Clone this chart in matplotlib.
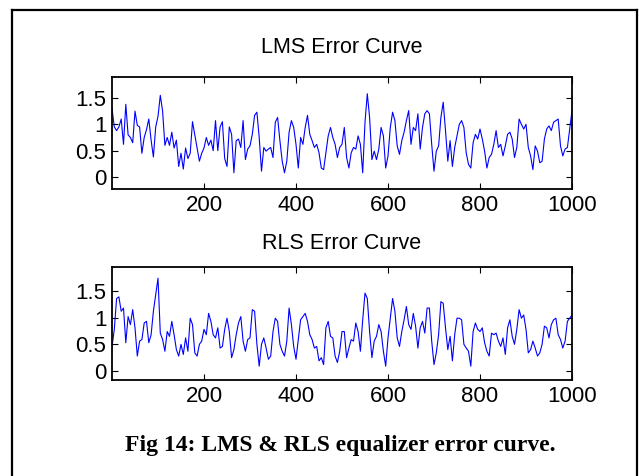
import numpy as np
import matplotlib
matplotlib.use("Agg")
import matplotlib.pyplot as plt
from matplotlib.lines import Line2D

step = 5
lms_error = [
    1.30, 0.95, 0.88, 0.95, 1.10, 0.62, 1.38, 0.80, 0.75, 0.65,
    1.25, 0.98, 0.95, 0.45, 0.75, 0.90, 1.10, 0.70, 0.38, 0.95,
    1.15, 1.55, 1.25, 0.60, 0.75, 0.60, 0.85, 0.55, 0.70, 0.20,
    0.45, 0.15, 0.55, 0.35, 0.45, 1.05, 0.80, 0.55, 0.30, 0.45,
    0.55, 0.75, 0.60, 0.70, 0.50, 1.07, 0.50, 0.95, 1.05, 0.35,
    0.20, 0.95,
    0.81, 0.08, 0.69, 0.72, 0.56, 1.07, 0.33, 0.53, 0.59, 0.81,
    1.17, 1.23, 0.75, 0.11, 0.56, 0.49, 0.53, 0.56, 0.37, 1.04,
    1.13, 0.69, 0.30, 0.08, 0.30, 0.85, 1.07, 0.94, 0.62, 0.17,
    0.75, 0.62, 0.94, 1.17, 0.81, 0.69, 0.56, 0.62, 0.46, 0.17,
    0.14, 0.46, 0.78, 0.94, 0.75, 0.62, 0.37, 0.56, 0.62, 0.94,
    0.37,
    0.17, 0.46, 0.56, 0.53, 0.78, 0.62, 0.08, 1.04, 1.58, 1.13,
    0.33, 0.49, 0.33, 0.53, 0.94, 0.78, 0.17, 0.40, 0.94, 1.23,
    1.07, 0.59, 0.43, 0.69, 0.85, 1.07, 1.26, 0.62, 0.94, 0.88,
    1.20, 0.53, 0.94, 1.20, 1.26, 1.20, 0.62, 0.11, 0.49, 0.59,
    1.13, 1.42, 0.88, 0.30, 0.69, 0.20, 0.56, 0.78, 1.00, 1.07,
    0.94, 0.46, 0.24, 0.17, 0.65, 0.81, 0.72, 0.91, 0.72, 0.49,
    0.17, 0.37, 0.43, 0.62, 0.88, 0.56, 0.62, 0.40, 0.59, 0.81,
    0.85, 0.72, 0.37, 0.56, 1.10, 1.00, 0.91, 1.00, 0.56, 0.40,
    0.14, 0.59, 0.49, 0.27, 0.30, 0.72, 0.91, 0.97, 0.88, 1.04,
    1.07, 1.10, 0.59, 0.40, 0.53, 0.56, 0.91, 1.26,
]
rls_error = [
    0.45, 0.78, 1.36, 1.39, 1.12, 1.18, 0.53, 1.02, 0.87, 1.15,
    0.81, 0.28, 0.56, 0.59, 0.90, 0.93, 0.53, 0.68, 1.12, 1.43,
    1.74, 0.71, 0.59, 0.37, 0.74, 0.65, 0.93, 0.68, 0.40, 0.28,
    0.50, 0.31, 0.62, 0.37, 0.99, 0.87, 0.34, 0.28, 0.50, 0.56,
    0.78, 0.68, 1.08, 0.93, 0.68, 0.62, 0.81, 0.43, 0.46, 0.78,
    0.99, 0.74,
    0.25, 0.40, 0.68, 0.90, 1.02, 0.56, 0.37, 0.59, 0.62, 1.15,
    1.12, 0.50, 0.09, 0.50, 0.62, 0.43, 0.22, 0.28, 0.74, 0.99,
    0.93, 0.50, 0.37, 0.28, 0.56, 1.18, 0.87, 0.46, 0.22, 0.59,
    0.96, 1.02, 1.08, 0.93, 0.68, 0.59, 0.43, 0.46, 0.19, 0.25,
    0.12, 0.81, 0.93, 0.65, 0.62, 0.28, 0.16, 0.37, 0.74, 0.74,
    0.25,
    0.43, 0.59, 0.56, 0.90, 0.74, 0.37, 0.96, 1.46, 1.36, 0.74,
    0.25, 0.56, 0.65, 0.87, 0.74, 0.37, 0.09, 0.62, 0.99, 1.36,
    1.12, 0.62, 0.46, 0.74, 0.96, 1.21, 0.87, 0.78, 1.08, 0.84,
    0.43, 0.81, 0.93, 0.71, 1.18, 1.18, 0.56, 0.12, 0.34, 0.68,
    1.30, 1.27, 0.81, 0.40, 0.65, 0.19, 0.68, 0.99, 0.99, 0.96,
    0.50, 0.43, 0.37, 0.09, 0.74, 0.90, 0.78, 0.74, 0.81, 0.53,
    0.37, 0.28, 0.71, 0.68, 0.71, 0.56, 0.46, 0.62, 0.31, 0.81,
    0.96, 0.65, 0.50, 0.78, 1.15, 0.99, 1.05, 0.78, 0.34, 0.40,
    0.56, 0.43, 0.28, 0.34, 0.50, 0.84, 0.81, 0.62, 0.87, 0.96,
    0.99, 0.68, 0.59, 0.43, 0.56, 0.93, 0.99, 1.05,
]
titles = ["LMS Error Curve", "RLS Error Curve"]
x_ticks = [200, 400, 600, 800, 1000]
y_ticks = [0, 0.5, 1, 1.5]
y_labels = ["0", "0.5", "1", "1.5"]
caption = "Fig 14: LMS & RLS equalizer error curve."

plt.rcParams["font.family"] = ["Liberation Sans", "DejaVu Sans"]

fig = plt.figure(figsize=(6.39, 4.76), dpi=100)
W, H = 639.0, 476.0

# axes boxes in pixels: left, top, right, bottom
boxes = [(112, 77, 572, 189), (112, 267, 572, 380)]
ylims = [(-0.228, 1.898), (-0.169, 1.95)]
title_pads = [17, 13]
curves = [lms_error, rls_error]

for box, yl, data, title, tp in zip(boxes, ylims, curves, titles, title_pads):
    l, t, r, b = box
    ax = fig.add_axes([l / W, 1 - b / H, (r - l) / W, (b - t) / H])
    n = np.arange(len(data)) * step
    ax.plot(n, data, color="#0000ff", lw=0.8)
    ax.set_xlim(0, 1000)
    ax.set_ylim(*yl)
    ax.set_xticks(x_ticks)
    ax.set_yticks(y_ticks)
    ax.set_yticklabels(y_labels)
    ax.tick_params(direction="in", length=4, width=0.8, top=True, right=True,
                   labelsize=16, pad=4)
    for s in ax.spines.values():
        s.set_linewidth(1.3)
    ax.set_title(title, fontsize=15.5, pad=tp)

# frame around the figure
fig.add_artist(Line2D([12 / W, 12 / W], [0, 1 - 10 / H], color="black", lw=1.6,
                      transform=fig.transFigure))
fig.add_artist(Line2D([12 / W, 637 / W], [1 - 10 / H, 1 - 10 / H], color="black",
                      lw=1.6, transform=fig.transFigure))
fig.add_artist(Line2D([637 / W, 637 / W], [0, 1 - 10 / H], color="black", lw=1.6,
                      transform=fig.transFigure))

fig.text(340 / W, 1 - 445 / H, caption, ha="center", va="center",
         fontsize=17, fontweight="bold", family=["Liberation Serif", "DejaVu Serif"])

fig.savefig("out.png", dpi=100)
